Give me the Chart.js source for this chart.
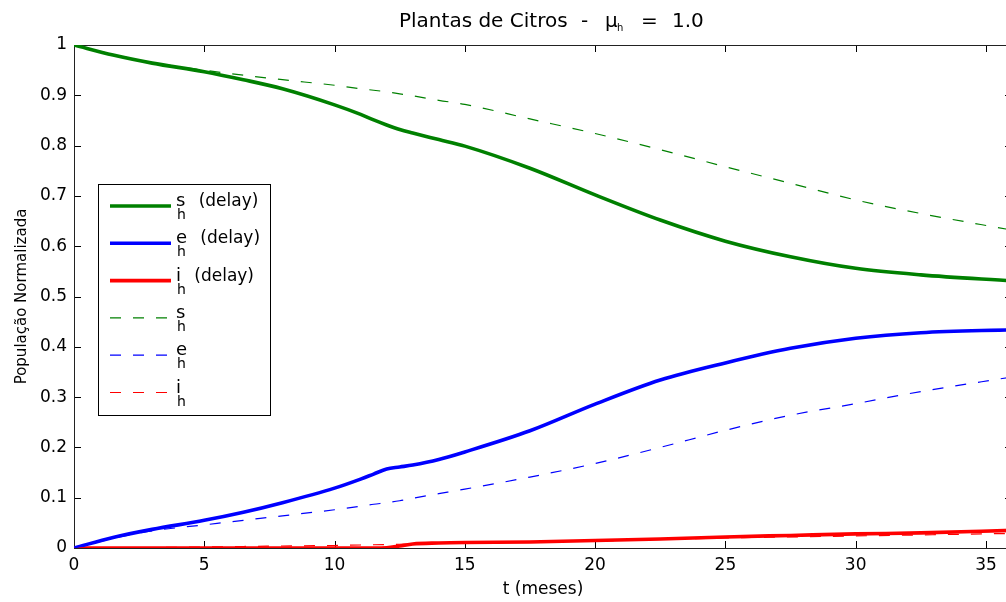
<!DOCTYPE html>
<html>
<head>
<meta charset="utf-8">
<title>Plantas de Citros</title>
<script src="https://cdn.jsdelivr.net/npm/chart.js@4.4.1/dist/chart.umd.min.js"></script>
<style>
    html, body { margin: 0; padding: 0; background: #fff; overflow: hidden; }
    #wrap { width: 1014px; height: 602px; }
</style>
</head>
<body>
<div id="wrap"><canvas id="chart" width="1014" height="602"></canvas></div>
<script>
// time in months
const months = [0, 1.5, 3, 5, 6.5, 8, 10, 11, 11.5, 12, 12.5, 13, 14, 15, 17.5, 20, 22.5, 25, 27.5, 30, 32.5, 36];

// model with delay (solid)
const shDelay = [1.0, 0.980, 0.964, 0.947, 0.931, 0.913, 0.881, 0.862, 0.851, 0.841, 0.832, 0.825, 0.812, 0.799, 0.755, 0.702, 0.652, 0.610, 0.579, 0.556, 0.543, 0.531];
const ehDelay = [0, 0.021, 0.037, 0.055, 0.071, 0.090, 0.119, 0.137, 0.147, 0.157, 0.161, 0.165, 0.176, 0.191, 0.233, 0.286, 0.334, 0.368, 0.397, 0.417, 0.428, 0.434];
const ihDelay = [0, 0, 0, 0, 0, 0, 0, 0, 0, 0.0005, 0.004, 0.008, 0.010, 0.011, 0.012, 0.015, 0.018, 0.022, 0.025, 0.028, 0.030, 0.035];

// model without delay (dashed)
const sh = [1.0, 0.981, 0.965, 0.950, 0.940, 0.931, 0.920, 0.913, 0.910, 0.907, 0.903, 0.899, 0.890, 0.882, 0.853, 0.824, 0.792, 0.758, 0.725, 0.692, 0.665, 0.632];
const eh = [0, 0.019, 0.034, 0.046, 0.055, 0.064, 0.076, 0.083, 0.087, 0.090, 0.094, 0.099, 0.108, 0.117, 0.141, 0.168, 0.200, 0.234, 0.264, 0.287, 0.311, 0.340];
const ih = [0, 0.0005, 0.001, 0.002, 0.003, 0.004, 0.005, 0.006, 0.0065, 0.007, 0.0075, 0.008, 0.009, 0.010, 0.012, 0.014, 0.017, 0.020, 0.022, 0.024, 0.026, 0.029];

const xTicks = [0, 5, 10, 15, 20, 25, 30, 35];
const yTicks = [0, 0.1, 0.2, 0.3, 0.4, 0.5, 0.6, 0.7, 0.8, 0.9, 1];
const yTickLabels = ['0', '0.1', '0.2', '0.3', '0.4', '0.5', '0.6', '0.7', '0.8', '0.9', '1'];

const FONT = '"DejaVu Sans", "Bitstream Vera Sans", sans-serif';

function makeDataset(symbol, suffix, values, color, dashed) {
    return {
        label: symbol + 'h' + suffix,
        symbol: symbol,
        suffix: suffix,
        data: months.map((t, i) => ({ x: t, y: values[i] })),
        borderColor: color,
        borderWidth: dashed ? 1.2 : 3.6,
        borderDash: dashed ? [11, 12] : [],
        pointRadius: 0,
        fill: false,
        cubicInterpolationMode: 'monotone',
        order: dashed ? 0 : 1,
    };
}

const datasets = [
    makeDataset('s', ' (delay)', shDelay, '#008000', false),
    makeDataset('e', ' (delay)', ehDelay, '#0000ff', false),
    makeDataset('i', ' (delay)', ihDelay, '#ff0000', false),
    makeDataset('s', '', sh, '#008000', true),
    makeDataset('e', '', eh, '#0000ff', true),
    makeDataset('i', '', ih, '#ff0000', true),
];

// frame + inward tick marks on all four sides
const framePlugin = {
    id: 'frame',
    beforeDatasetsDraw(chart) {
        const { ctx, chartArea: a, scales } = chart;
        ctx.save();
        ctx.strokeStyle = '#000';
        ctx.lineWidth = 1;
        ctx.beginPath();
        scales.x.ticks.forEach(t => {
            const px = Math.round(scales.x.getPixelForValue(t.value)) + 0.5;
            ctx.moveTo(px, a.bottom); ctx.lineTo(px, a.bottom - 7);
            ctx.moveTo(px, a.top); ctx.lineTo(px, a.top + 7);
        });
        scales.y.ticks.forEach(t => {
            const py = Math.round(scales.y.getPixelForValue(t.value)) + 0.5;
            ctx.moveTo(a.left, py); ctx.lineTo(a.left + 7, py);
            ctx.moveTo(a.right, py); ctx.lineTo(a.right - 7, py);
        });
        ctx.stroke();
        ctx.strokeStyle = '#222';
        ctx.strokeRect(Math.round(a.left) + 0.5, Math.round(a.top) + 0.5,
            Math.round(a.right - a.left), Math.round(a.bottom - a.top));
        ctx.restore();
    },
};

// title with subscript
const titlePlugin = {
    id: 'subTitle',
    afterDraw(chart) {
        const ctx = chart.ctx;
        ctx.save();
        ctx.fillStyle = '#000';
        ctx.textBaseline = 'alphabetic';
        ctx.font = '20px ' + FONT;
        ctx.fillText('Plantas de Citros', 399, 27);
        ctx.fillText('-', 581, 27);
        ctx.fillText('\u03bc', 605, 27);
        ctx.fillText('=', 641, 27);
        ctx.fillText('1.0', 672, 27);
        ctx.font = '10px ' + FONT;
        ctx.fillText('h', 617, 31);
        ctx.restore();
    },
};

// legend box with subscripts
const legendPlugin = {
    id: 'subLegend',
    afterDraw(chart) {
        const ctx = chart.ctx;
        const box = { left: 98, top: 184, width: 172, height: 231 };
        ctx.save();
        ctx.fillStyle = '#fff';
        ctx.fillRect(box.left, box.top, box.width, box.height);
        ctx.strokeStyle = '#000';
        ctx.lineWidth = 1;
        ctx.strokeRect(box.left + 0.5, box.top + 0.5, box.width, box.height);
        chart.data.datasets.forEach((ds, i) => {
            const y = 206 + i * 37.3;
            ctx.beginPath();
            ctx.setLineDash(ds.borderDash);
            ctx.lineWidth = ds.borderWidth;
            ctx.strokeStyle = ds.borderColor;
            ctx.moveTo(110, y);
            ctx.lineTo(171, y);
            ctx.stroke();
            ctx.setLineDash([]);

            const x0 = 176;
            ctx.fillStyle = '#000';
            ctx.textBaseline = 'alphabetic';
            ctx.font = '18px ' + FONT;
            ctx.fillText(ds.symbol, x0, y);
            const w = ctx.measureText(ds.symbol).width;
            ctx.font = '14px ' + FONT;
            ctx.fillText('h', x0 + 1, y + 13);
            const hw = ctx.measureText('h').width;
            if (ds.suffix) {
                ctx.font = '17px ' + FONT;
                ctx.fillText(ds.suffix, x0 + w + hw - 1, y);
            }
        });
        ctx.restore();
    },
};

const ctx = document.getElementById('chart').getContext('2d');
new Chart(ctx, {
    type: 'line',
    data: { datasets },
    options: {
        responsive: false,
        animation: false,
        layout: { padding: { left: 0, top: 45, right: 2, bottom: 0 } },
        plugins: {
            legend: { display: false },
            title: { display: false },
            tooltip: { enabled: false },
        },
        scales: {
            x: {
                type: 'linear',
                min: 0,
                max: 36,
                afterBuildTicks: scale => { scale.ticks = xTicks.map(v => ({ value: v })); },
                afterFit: scale => { scale.height = 54; },
                grid: { display: false, drawTicks: false },
                border: { display: false },
                ticks: { color: '#000', padding: 7, font: { family: FONT, size: 17 }, maxRotation: 0, autoSkip: false },
                title: { display: true, text: 't (meses)', color: '#000', font: { family: FONT, size: 17 }, padding: { top: 0, bottom: 2 } },
            },
            y: {
                min: 0,
                max: 1,
                afterBuildTicks: scale => { scale.ticks = yTicks.map(v => ({ value: v })); },
                afterFit: scale => { scale.width = 74; },
                grid: { display: false, drawTicks: false },
                border: { display: false },
                ticks: {
                    color: '#000', padding: 7, font: { family: FONT, size: 17 }, autoSkip: false,
                    callback: (v, i) => yTickLabels[i],
                },
                title: { display: true, text: 'População Normalizada', color: '#000', font: { family: FONT, size: 15 }, padding: { top: 13, bottom: 0 } },
            },
        },
    },
    plugins: [framePlugin, titlePlugin, legendPlugin],
});
</script>
</body>
</html>
